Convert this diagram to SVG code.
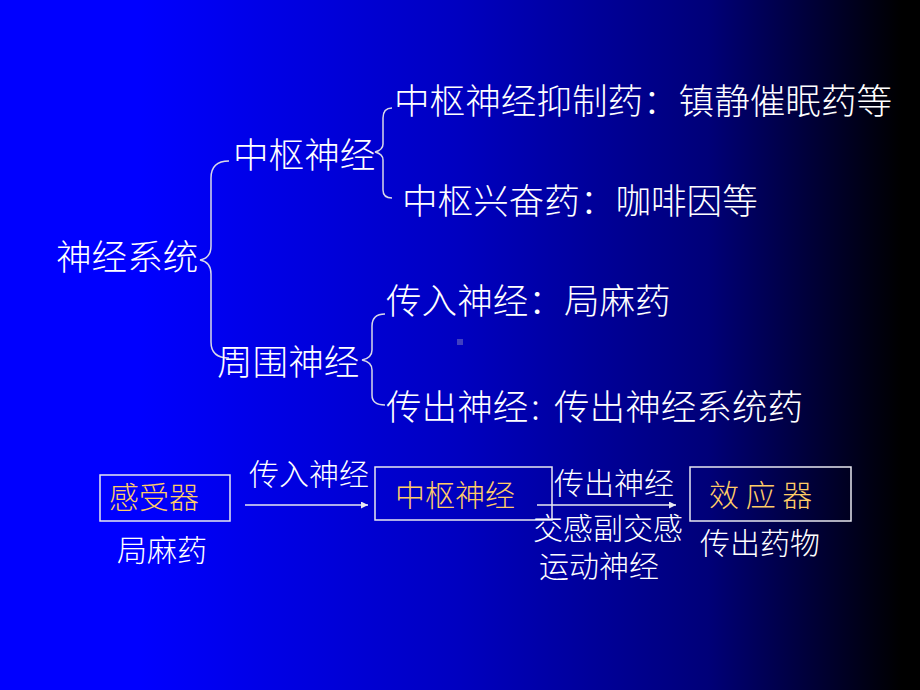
<svg xmlns="http://www.w3.org/2000/svg" width="920" height="690" viewBox="0 0 920 690">
<defs>
<linearGradient id="bg" x1="0" y1="0" x2="920" y2="0" gradientUnits="userSpaceOnUse">
<stop offset="0" stop-color="#0000FF"/>
<stop offset="0.15" stop-color="#0000FF"/>
<stop offset="0.5" stop-color="#0000C0"/>
<stop offset="0.77" stop-color="#000078"/>
<stop offset="0.98" stop-color="#000000"/>
<stop offset="1" stop-color="#000000"/>
</linearGradient>
<marker id="arr" viewBox="0 0 10 10" refX="10" refY="5" markerWidth="7" markerHeight="7" markerUnits="userSpaceOnUse" orient="auto">
<path d="M0,0 L10,5 L0,10 z" fill="#E8E8F0"/>
</marker>
<style>
text{font-family:"Noto Sans CJK SC","Noto Sans",sans-serif;fill:#FFFFFF;font-weight:300;}
.big{font-size:35.6px;}
.sm{font-size:30px;}
.gold{fill:#FFCC66;}
.brace{fill:none;stroke:#D8D8E8;stroke-width:1.5;}
.box{fill:none;stroke:#E8E8F0;stroke-width:1.5;}
.arrow{fill:none;stroke:#E8E8F0;stroke-width:1.5;marker-end:url(#arr);}
</style>
</defs>
<rect x="0" y="0" width="920" height="690" fill="url(#bg)"/>
<rect x="457" y="339" width="6" height="6" fill="#4040C0"/>

<g id="connectors">
<path class="brace" d="M229,161 Q211,161 211,178 L211,246 Q211,258 200,260 Q211,262 211,274 L211,342 Q211,358 229,358"/>
<path class="brace" d="M392,108 Q383,108 383,118 L383,144 Q383,150 375,152 Q383,154 383,160 L383,190 Q383,198 392,198"/>
<path class="brace" d="M385,314 Q372,314 372,326 L372,350 Q372,358 362,360 Q372,362 372,370 L372,395 Q372,405 385,405"/>
<line class="arrow" x1="245" y1="505" x2="368" y2="505"/>
<line class="arrow" x1="537" y1="505" x2="676" y2="505"/>
</g>

<g id="n-root"><text class="big" x="56" y="270">神经系统</text></g>
<g id="n-cns"><text class="big" x="233" y="168">中枢神经</text></g>
<g id="n-pns"><text class="big" x="217" y="375">周围神经</text></g>
<g id="n-cns1"><text class="big" x="394" y="114">中枢神经抑制药：镇静催眠药等</text></g>
<g id="n-cns2"><text class="big" x="402" y="214">中枢兴奋药：咖啡因等</text></g>
<g id="n-pns1"><text class="big" x="386" y="314">传入神经：局麻药</text></g>
<g id="n-pns2"><text class="big" x="386" y="420">传出神经<tspan x="531">:</tspan><tspan x="554">传出神经系统药</tspan></text></g>

<g id="b-receptor">
<rect class="box" x="100" y="475" width="130" height="46"/>
<text class="sm gold" x="109" y="508">感受器</text>
<text class="sm" x="117" y="561">局麻药</text>
</g>
<g id="b-cns">
<rect class="box" x="375" y="467" width="177" height="53"/>
<text class="sm gold" x="395" y="506">中枢神经</text>
</g>
<g id="b-effector">
<rect class="box" x="690" y="467" width="161" height="54"/>
<text class="sm gold" x="709" y="506">效 应 器</text>
<text class="sm" x="700" y="554">传出药物</text>
</g>
<g id="labels">
<text class="sm" x="249" y="485">传入神经</text>
<text class="sm" x="554" y="494">传出神经</text>
<text class="sm" x="533" y="539">交感副交感</text>
<text class="sm" x="539" y="577">运动神经</text>
</g>
</svg>
